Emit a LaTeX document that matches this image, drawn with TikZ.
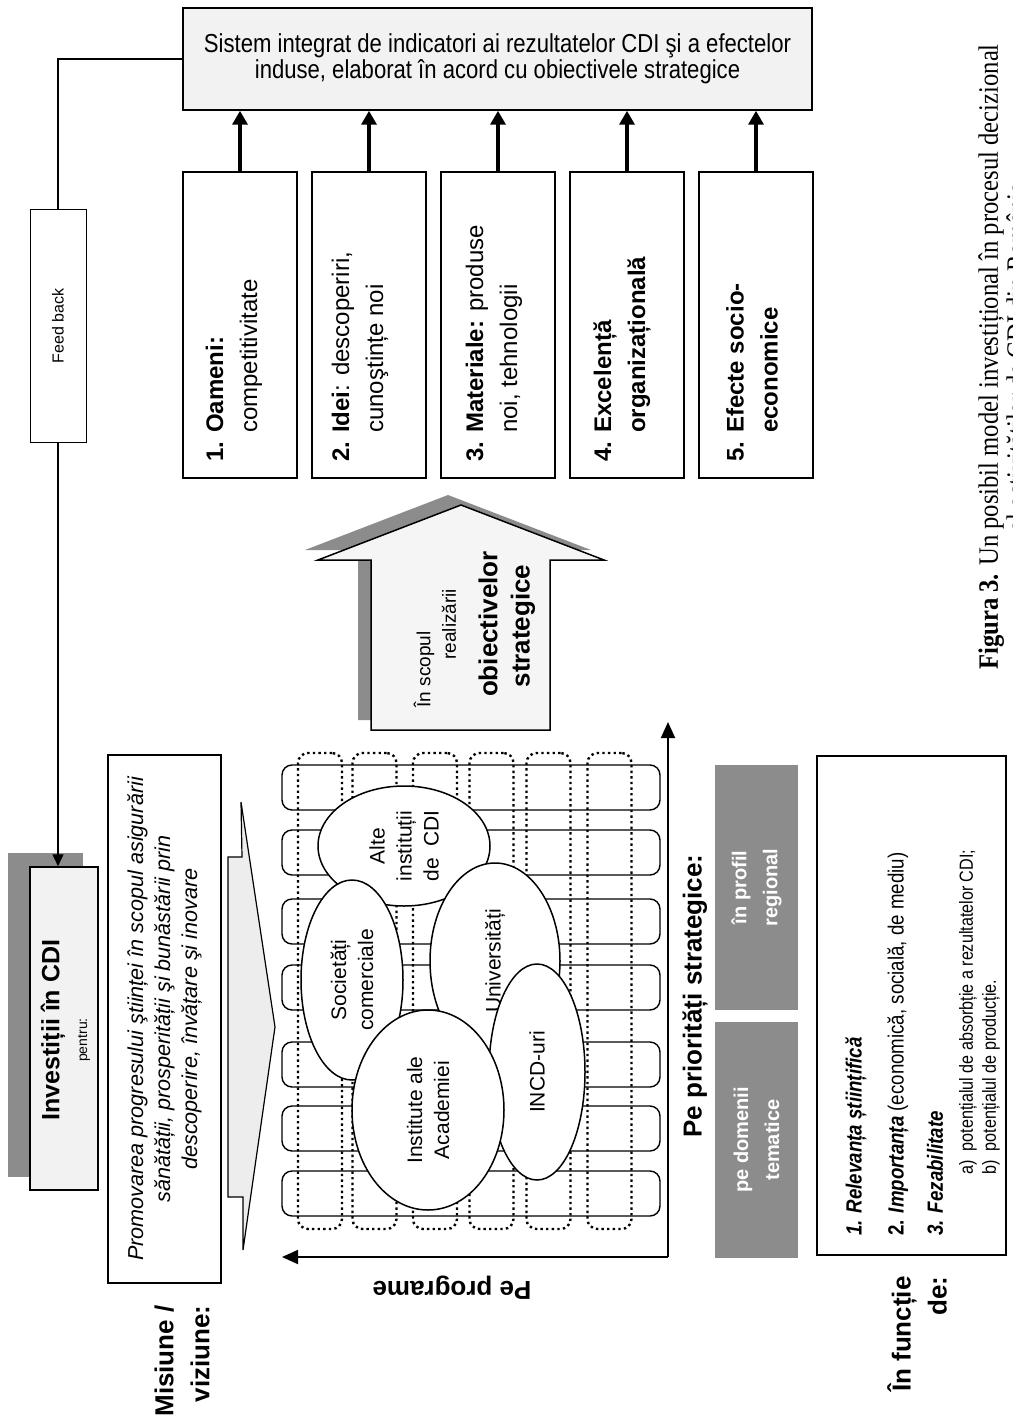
\documentclass[tikz,border=0pt]{standalone}
\usepackage{fontspec}
\setmainfont{Liberation Sans}
\newfontfamily\narrowfont[FakeStretch=0.85]{Liberation Sans}
\newfontfamily\capfont[FakeStretch=0.88]{Liberation Serif}
\usetikzlibrary{arrows.meta,shapes.geometric}
\colorlet{shadowgray}{black!45}
\colorlet{speck}{black!5}
\begin{document}
\begin{tikzpicture}[x=0.5pt,y=-0.5pt,
  boxst/.style={draw, line width=0.75pt, inner sep=0pt},
  thickarrow/.style={line width=2.2pt, -{Triangle[length=7pt,width=7.5pt]}},
  thinarrow/.style={line width=0.7pt, -{Triangle[length=6pt,width=5.5pt]}},
  rowband/.style={draw, line width=0.7pt, rounded corners=5pt, minimum width=189pt, minimum height=22.5pt, inner sep=0pt},
  colband/.style={draw, line width=1.2pt, dash pattern=on 1.2pt off 1.6pt, rounded corners=5pt, minimum width=22pt, minimum height=238pt, inner sep=0pt},
  ell/.style={ellipse, draw, fill=white, line width=0.75pt, inner sep=0pt, align=center, rotate=90, font=\fontsize{10.5pt}{13.5pt}\selectfont},
  vtext/.style={rotate=90, inner sep=0pt},
  bigbold/.style={font=\fontsize{13pt}{18pt}\selectfont\bfseries},
  boxtext/.style={vtext, anchor=west, align=left, font=\fontsize{12pt}{17pt}\selectfont}
]
\fill[white] (0,0) rectangle (1012,1423);
\useasboundingbox (0,0) rectangle (1012,1423);

% ---------- top box ----------
\node[boxst, fill=speck, minimum width=314.5pt, minimum height=51pt, align=center,
      font=\narrowfont\fontsize{13pt}{12.8pt}\selectfont] (top) at (497.5,59)
  {Sistem integrat de indicatori ai rezultatelor CDI şi a efectelor\\induse, elaborat în acord cu obiectivele strategice};

% ---------- five boxes ----------
\foreach \i/\cx in {1/240,2/369,3/498,4/627,5/756}{
  \node[boxst, fill=white, minimum width=57pt, minimum height=153pt] (b\i) at (\cx,325) {};
  \draw[thickarrow] (b\i.north) -- (b\i.north |- top.south);
}
\node[boxtext] (t1) at (234,462) {\textbf{1. Oameni:}\\\hphantom{\textbf{1. }}competitivitate};
\node[boxtext] (t2) at (360,462) {\textbf{2. Idei}: descoperiri,\\\hphantom{\textbf{2. }}cunoştințe noi};
\node[boxtext] (t3) at (494,462) {\textbf{3. Materiale:} produse\\\hphantom{\textbf{3. }}noi, tehnologii};
\node[boxtext] (t4) at (622,462) {\textbf{4. Excelență}\\\hphantom{\textbf{4. }}\textbf{organizațională}};
\node[boxtext] (t5) at (752,462) {\textbf{5. Efecte socio-}\\\hphantom{\textbf{5. }}\textbf{economice}};

% ---------- Investitii box ----------
\node[fill=shadowgray, minimum width=37.5pt, minimum height=162pt, inner sep=0pt] (invsh) at (45.5,1015) {};
\node[boxst, fill=speck, minimum width=34pt, minimum height=161.5pt] (inv) at (64,1028.5) {};
\node[vtext, font=\fontsize{12.5pt}{15pt}\selectfont\bfseries] (invt) at (53,1030) {Investiții în CDI};
\node[vtext, font=\fontsize{7pt}{9pt}\selectfont] (invp) at (84,1040) {pentru:};

% ---------- feedback ----------
\coordinate (fbc) at (58,59);
\draw[thinarrow] (top.west) -- (fbc) -- (fbc |- inv.north);
\node[draw, line width=0.5pt, fill=white, minimum width=28pt, minimum height=116pt, inner sep=0pt] (fb) at (58,326) {};
\node[vtext, font=\fontsize{8pt}{10pt}\selectfont] (fbt) at (fb.center) {Feed back};

% ---------- Misiune box ----------
\node[boxst, fill=white, minimum width=56.5pt, minimum height=264pt] (mis) at (164.5,1019) {};
\node[vtext, align=center, font=\fontsize{10.8pt}{13.5pt}\selectfont\itshape] (mist) at (mis.center)
  {Promovarea progresului ştiinței în scopul asigurării\\sănătății, prosperității şi bunăstării prin\\descoperire, învățare şi inovare};
\node[vtext, anchor=east, align=right, bigbold] (misl) at (182,1305) {Misiune /\\viziune:};

% ---------- chevron ----------
\draw[fill=black!7, line width=0.6pt, line join=miter]
  (241,802) -- (275,1027) -- (243,1250) -- (243,1197) -- (228,1197) -- (228,857) -- (242,857) -- cycle;

% ---------- big arrow ----------
\fill[shadowgray, shift={(-13,-10)}]
  (461,505) -- (604,560) -- (550,560) -- (550,730) -- (371,730) -- (371,560) -- (318,560) -- cycle;
\draw[fill=black!4, line width=0.75pt]
  (461,505) -- (604,560) -- (550,560) -- (550,730) -- (371,730) -- (371,560) -- (318,560) -- cycle;
\node[vtext, anchor=west, font=\fontsize{9.5pt}{12pt}\selectfont] (ar1) at (424,708) {În scopul};
\node[vtext, anchor=west, font=\fontsize{9.5pt}{12pt}\selectfont] (ar2) at (449,660) {realizării};
\node[vtext, bigbold] (ar3) at (488,624) {obiectivelor};
\node[vtext, bigbold] (ar4) at (523,626) {strategice};

% ---------- grid ----------
\foreach \i/\cy in {1/787.5,2/852.5,3/921.5,4/987.5,5/1064.5,6/1128.5,7/1193.5}{
  \node[rowband] (r\i) at (471,\cy) {};
}
\foreach \i/\cx in {1/320,2/374.5,3/435,4/491.5,5/548.5,6/609.5}{
  \node[colband] (c\i) at (\cx,991) {};
}
\node[ell, minimum width=60pt, minimum height=86pt] (alte) at (404,846) {Alte\\instituții\\de~~CDI};
\node[ell, minimum width=100pt, minimum height=51pt] (soc) at (352,980) {Societăți\\comerciale};
\node[ell, minimum width=98pt, minimum height=65pt] (univ) at (495,961) {Universități};
\node[ell, minimum width=108pt, minimum height=48pt] (incd) at (537,1072) {INCD-uri};
\node[ell, minimum width=100pt, minimum height=76pt] (inst) at (428,1110) {Institute ale\\Academiei};

% axes
\coordinate (ax0) at (668,1257);
\coordinate (axU) at (668,722);
\coordinate (axL) at (282,1257);
\draw[line width=0.9pt, -{Triangle[length=8pt,width=7pt]}] (ax0) -- (axU);
\draw[line width=0.9pt, -{Triangle[length=8pt,width=7pt]}] (ax0) -- (axL);
\node[rotate=180, inner sep=0pt, bigbold] (pp) at (452,1288) {Pe programe};
\node[vtext, bigbold] (ps) at (695,996) {Pe priorități strategice:};

% gray boxes
\node[fill=shadowgray, minimum width=41.5pt, minimum height=122.5pt, inner sep=0pt] (g1) at (756.5,887.5) {};
\node[vtext, align=center, text=white, font=\fontsize{10pt}{15.5pt}\selectfont\bfseries] (g1t) at (g1.center) {în profil\\regional};
\node[fill=shadowgray, minimum width=41.5pt, minimum height=118pt, inner sep=0pt] (g2) at (756.5,1140) {};
\node[vtext, align=center, text=white, font=\fontsize{10pt}{15.5pt}\selectfont\bfseries] (g2t) at (g2.center) {pe domenii\\tematice};

% ---------- criteria box ----------
\node[boxst, fill=white, minimum width=94.5pt, minimum height=249.5pt] (rel) at (911.5,1005.5) {};
\node[vtext, anchor=west, font=\narrowfont\fontsize{11pt}{13pt}\selectfont] (rl1) at (856,1236) {\textbf{\textit{1. Relevanța științifică}}};
\node[vtext, anchor=west, font=\narrowfont\fontsize{11pt}{13pt}\selectfont] (rl2) at (898,1236) {\textbf{2. \textit{Importanța}} (economică, socială, de mediu)};
\node[vtext, anchor=west, font=\narrowfont\fontsize{11pt}{13pt}\selectfont] (rl3) at (935,1236) {\textbf{\textit{3. Fezabilitate}}};
\node[vtext, anchor=west, font=\narrowfont\fontsize{9.5pt}{11pt}\selectfont] (rl4) at (968,1175) {a)\ \ potențialul de absorbție a rezultatelor CDI;};
\node[vtext, anchor=west, font=\narrowfont\fontsize{9.5pt}{11pt}\selectfont] (rl5) at (991,1175) {b)\ \ potențialul de producție.};
\node[vtext, anchor=east, align=right, bigbold] (fct) at (917,1276) {În funcție\\de:};

% ---------- caption ----------
\node[vtext, align=center, font=\capfont\fontsize{14pt}{14pt}\selectfont] (cap) at (1005,357)
  {\textbf{Figura 3.} Un posibil model investițional în procesul decizional\\al activităților de CDI din România};
\end{tikzpicture}
\end{document}
